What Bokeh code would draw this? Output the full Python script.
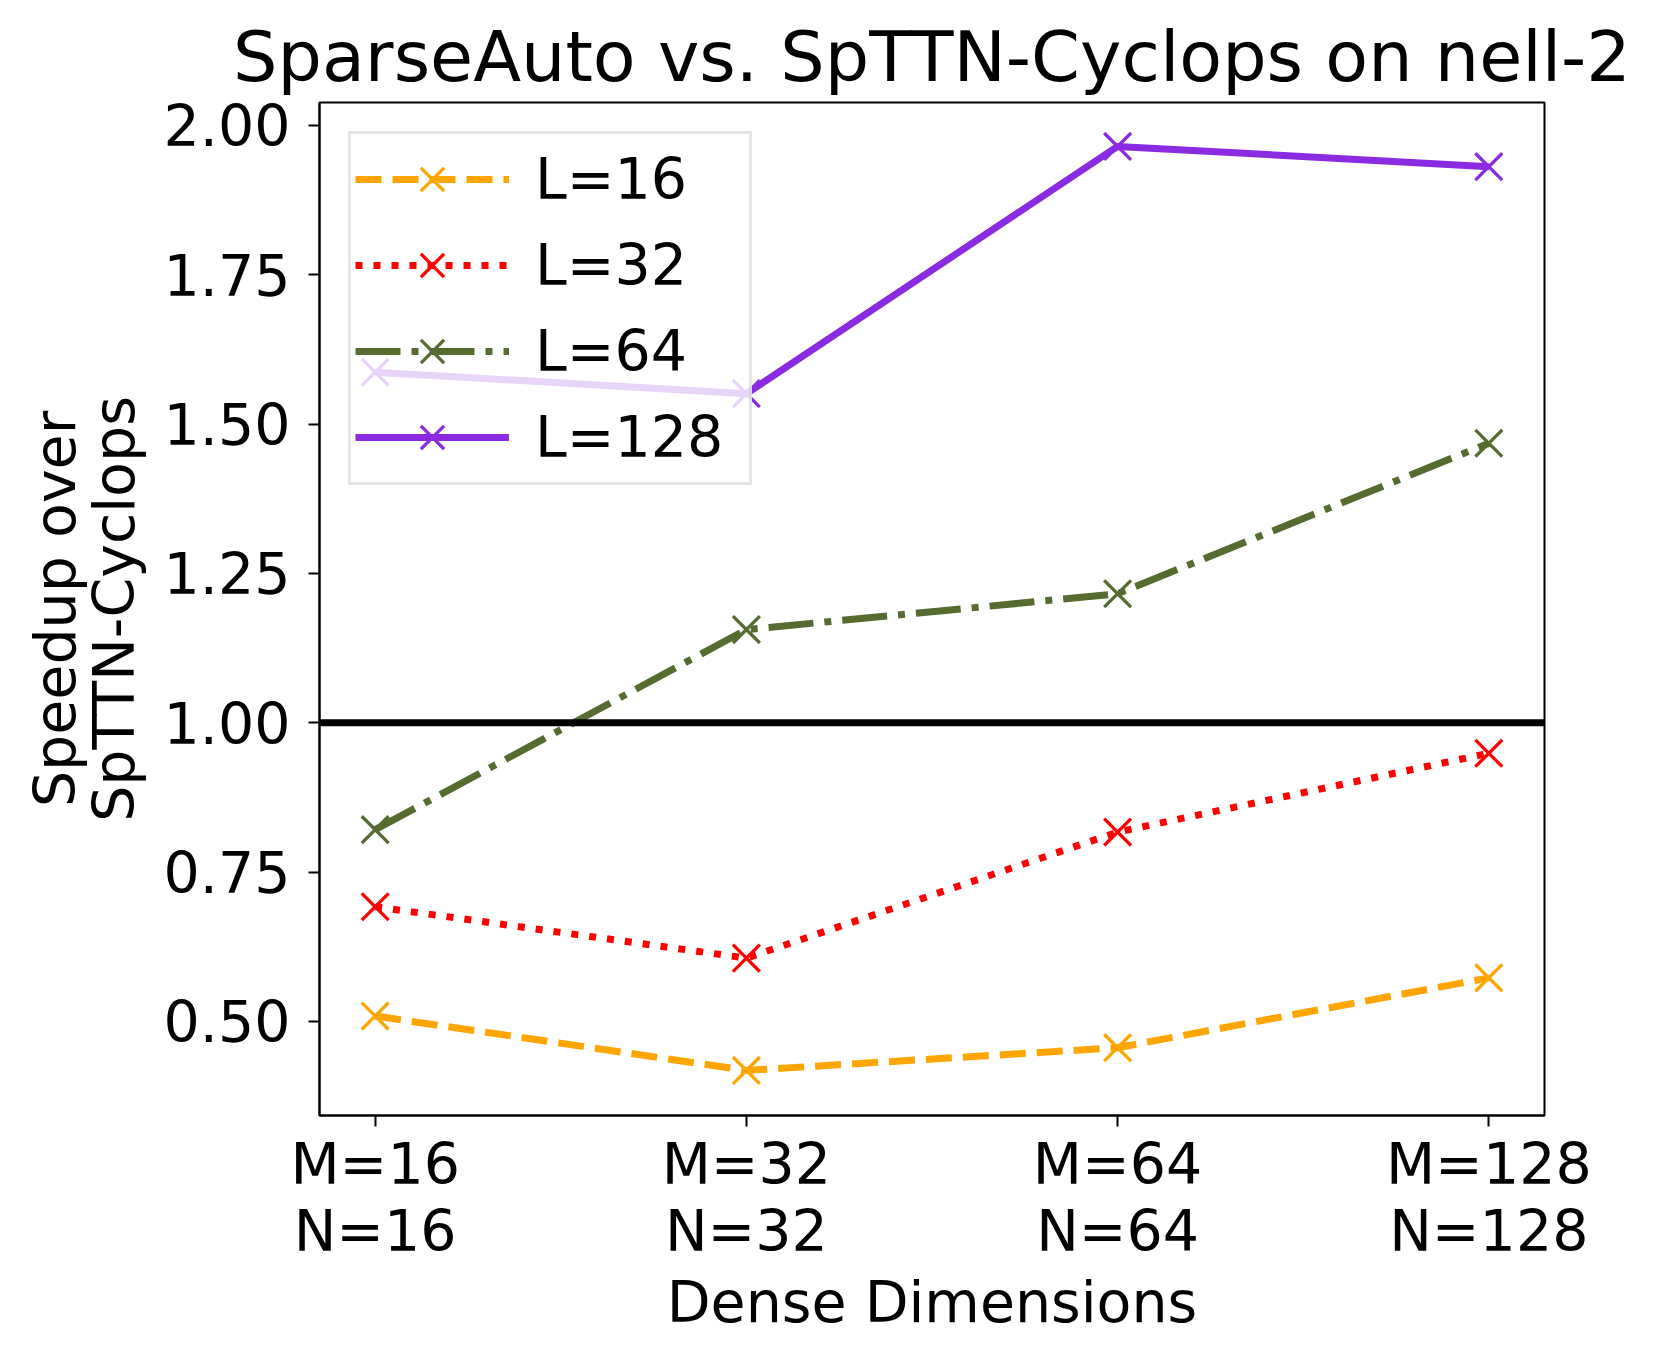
from bokeh.plotting import figure
from bokeh.models import Range1d, FixedTicker, NumeralTickFormatter, Span, Legend, LegendItem
from bokeh.embed import file_html
from bokeh.resources import INLINE

# ---- data ----
dim_labels = ["M=16\nN=16", "M=32\nN=32", "M=64\nN=64", "M=128\nN=128"]
x_pos = [0, 1, 2, 3]
series_names = ["L=16", "L=32", "L=64", "L=128"]
l16 = [0.509, 0.418, 0.456, 0.573]
l32 = [0.692, 0.606, 0.817, 0.949]
l64 = [0.821, 1.156, 1.216, 1.468]
l128 = [1.587, 1.551, 1.965, 1.931]
y_ticks = [0.50, 0.75, 1.00, 1.25, 1.50, 1.75, 2.00]
baseline = 1.0

FONT = "DejaVu Sans"
FS = "57px"

p = figure(frame_width=1225, frame_height=1013,
           min_border_left=319, min_border_top=102, min_border_right=101, min_border_bottom=225,
           x_range=Range1d(-0.15, 3.15), y_range=Range1d(0.3425, 2.0385),
           output_backend="svg", toolbar_location=None,
           title="SparseAuto vs. SpTTN-Cyclops on nell-2")

p.title.text_font = FONT
p.title.text_font_size = "70px"
p.title.text_font_style = "normal"
p.title.text_color = "black"
p.title.align = "center"
p.title.standoff = 9

p.xgrid.visible = False
p.ygrid.visible = False
p.outline_line_color = "black"
p.outline_line_width = 2
p.background_fill_color = "white"
p.border_fill_color = "white"

# axes
p.xaxis.ticker = FixedTicker(ticks=x_pos)
p.xaxis.major_label_overrides = {x: lab for x, lab in zip(x_pos, dim_labels)}
p.xaxis.axis_label = "Dense Dimensions"
p.yaxis.ticker = FixedTicker(ticks=y_ticks)
p.yaxis.formatter = NumeralTickFormatter(format="0.00")
p.yaxis.axis_label = "Speedup over\nSpTTN-Cyclops"
for ax in (p.xaxis, p.yaxis):
    ax.major_label_text_font = FONT
    ax.major_label_text_font_size = FS
    ax.major_label_text_color = "black"
    ax.axis_label_text_font = FONT
    ax.axis_label_text_font_size = FS
    ax.axis_label_text_font_style = "normal"
    ax.axis_label_text_color = "black"
    ax.axis_line_color = "black"
    ax.axis_line_width = 2
    ax.major_tick_line_color = "black"
    ax.major_tick_line_width = 2
    ax.major_tick_out = 11
    ax.major_tick_in = 0
    ax.minor_tick_line_color = None
p.xaxis.major_label_text_line_height = 1.03
p.yaxis.axis_label_text_line_height = 0.88
p.xaxis.major_label_standoff = 4
p.xaxis.axis_label_standoff = 2
p.yaxis.major_label_standoff = 18
p.yaxis.axis_label_standoff = 14

styles = [
    ("orange", "26 11"),
    ("red", "7 11"),
    ("darkolivegreen", "45 11 7 11"),
    ("blueviolet", "solid"),
]
data = [l16, l32, l64, l128]
items = []
for name, ys, (col, dash) in zip(series_names, data, styles):
    ln = p.line(x_pos, ys, line_color=col, line_width=7, line_dash=dash)
    mk = p.scatter(x_pos, ys, marker="x", size=38, line_color=col, line_width=3.3)
    items.append(LegendItem(label=name, renderers=[ln, mk]))

p.add_layout(Span(location=baseline, dimension="width", line_color="black", line_width=7))

legend = Legend(items=items, location="top_left", margin=29, padding=4,
                spacing=4, glyph_width=154, glyph_height=82, label_standoff=26,
                label_width=210,
                label_text_font=FONT, label_text_font_size=FS, label_text_color="black",
                label_text_baseline="middle",
                border_line_color="#cccccc", border_line_width=3,
                background_fill_color="white", background_fill_alpha=0.8)
p.add_layout(legend)

open("out.html", "w").write(file_html(p, INLINE))
